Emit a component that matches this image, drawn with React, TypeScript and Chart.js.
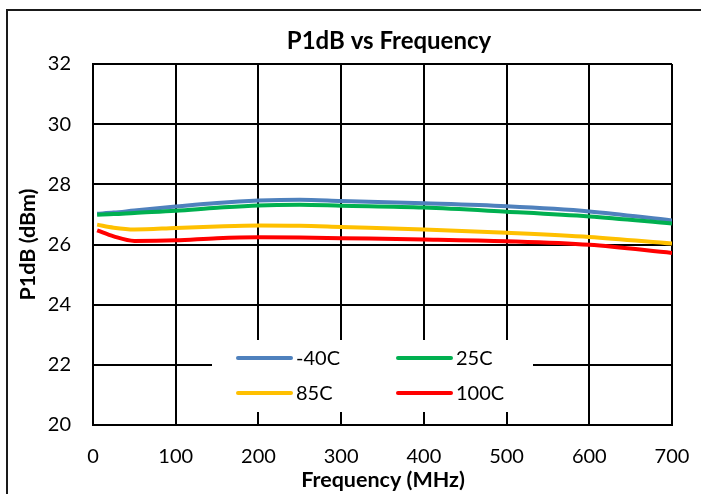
import React, { useEffect, useRef } from "react";
import { Chart, registerables } from "chart.js";

Chart.register(...registerables);

const TITLE = "P1dB vs Frequency";
const X_TITLE = "Frequency (MHz)";
const Y_TITLE = "P1dB (dBm)";

const freqs = [5, 25, 50, 100, 150, 200, 250, 300, 400, 500, 600, 700];
const seriesNames = ["-40C", "25C", "85C", "100C"];
const seriesColors = ["#4F81BD", "#00B050", "#FFC000", "#FF0000"];
const m40C = [27.02, 27.06, 27.13, 27.26, 27.38, 27.46, 27.49, 27.45, 27.37, 27.27, 27.1, 26.8];
const p25C = [26.99, 27.01, 27.05, 27.12, 27.22, 27.3, 27.32, 27.29, 27.23, 27.09, 26.93, 26.7];
const p85C = [26.66, 26.56, 26.5, 26.55, 26.6, 26.63, 26.62, 26.58, 26.5, 26.39, 26.25, 26.03];
const p100C = [26.47, 26.27, 26.12, 26.14, 26.21, 26.24, 26.23, 26.21, 26.17, 26.11, 25.99, 25.72];
const seriesValues = [m40C, p25C, p85C, p100C];

const FONT = "Lato, 'Open Sans', sans-serif";

const decorPlugin = {
  id: "decor",
  beforeDraw(chart: any) {
    const ctx = chart.ctx;
    ctx.save();
    ctx.fillStyle = "#ffffff";
    ctx.fillRect(0, 0, chart.width, chart.height);
    ctx.restore();
  },
  afterDraw(chart: any) {
    const ctx = chart.ctx;
    const area = chart.chartArea;
    ctx.save();
    // outer border
    ctx.strokeStyle = "#1a1a1a";
    ctx.lineWidth = 2;
    ctx.strokeRect(7, 10, 900, 900);

    // title
    ctx.fillStyle = "#000";
    ctx.textAlign = "center";
    ctx.textBaseline = "middle";
    ctx.font = `bold 24px ${FONT}`;
    ctx.fillText(TITLE, 389, 41);

    // x title
    ctx.font = `bold 21.5px ${FONT}`;
    ctx.fillText(X_TITLE, 383, 480);

    // y title
    ctx.save();
    ctx.translate(28, (area.top + area.bottom) / 2);
    ctx.rotate(-Math.PI / 2);
    ctx.fillText(Y_TITLE, 0, 0);
    ctx.restore();

    // legend box
    const lx = area.left + 119;
    const ly = area.top + 276;
    ctx.fillStyle = "#ffffff";
    ctx.fillRect(lx, ly, 321, 72);
    ctx.font = `20px ${FONT}`;
    ctx.textAlign = "left";
    ctx.textBaseline = "middle";
    chart.data.datasets.forEach((ds: any, i: number) => {
      const col = i % 2;
      const row = Math.floor(i / 2);
      const x0 = lx + 26 + col * 160;
      const y0 = ly + 18 + row * 35;
      ctx.strokeStyle = ds.borderColor;
      ctx.lineWidth = 4;
      ctx.lineCap = "round";
      ctx.beginPath();
      ctx.moveTo(x0, y0);
      ctx.lineTo(x0 + 53, y0);
      ctx.stroke();
      ctx.fillStyle = "#000";
      ctx.fillText(ds.label, x0 + 58, y0 + 1);
    });
    ctx.restore();
  },
};

export default function App() {
  const ref = useRef<HTMLCanvasElement | null>(null);
  useEffect(() => {
    if (!ref.current) return;
    const datasets = seriesNames.map((name, i) => ({
      label: name,
      data: freqs.map((f, j) => ({ x: f, y: seriesValues[i][j] })),
      borderColor: seriesColors[i],
      backgroundColor: seriesColors[i],
      borderWidth: 4,
      pointRadius: 0,
      fill: false,
      cubicInterpolationMode: "monotone" as const,
      order: seriesNames.length - i,
    }));
    const chart = new Chart(ref.current, {
      type: "line",
      data: { datasets },
      options: {
        animation: false,
        responsive: false,
        layout: { padding: { left: 0, top: 64, right: 29, bottom: 0 } },
        plugins: {
          legend: { display: false },
          title: { display: false },
          tooltip: { enabled: false },
        },
        scales: {
          x: {
            type: "linear",
            min: 0,
            max: 700,
            ticks: { stepSize: 100, color: "#000", font: { family: FONT, size: 20 }, padding: 4, maxRotation: 0 },
            grid: { color: "#000", lineWidth: 2, drawTicks: true, tickLength: 16, tickColor: "rgba(0,0,0,0)" },
            border: { color: "#000", width: 2 },
            afterFit(scale: any) {
              scale.height = 494 - 425;
            },
          },
          y: {
            min: 20,
            max: 32,
            ticks: { stepSize: 2, color: "#000", font: { family: FONT, size: 20 }, padding: 22 },
            grid: { color: "#000", lineWidth: 2, drawTicks: false },
            border: { color: "#000", width: 2 },
            afterFit(scale: any) {
              scale.width = 93;
            },
          },
        },
      },
      plugins: [decorPlugin],
    });
    return () => chart.destroy();
  }, []);
  return (
    <div style={{ position: "absolute", left: 0, top: 0, width: 701, height: 494, overflow: "hidden", background: "#fff" }}>
      <canvas ref={ref} width={701} height={494} style={{ display: "block" }} />
    </div>
  );
}
